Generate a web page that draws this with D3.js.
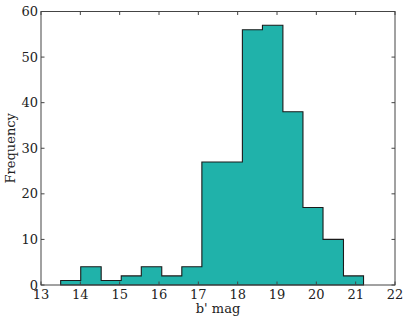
<!DOCTYPE html>
<html>
<head>
<meta charset="utf-8">
<script src="https://cdn.jsdelivr.net/npm/d3@7"></script>
<style>
body{margin:0;background:#fff;}
text{font-family:"DejaVu Serif",serif;fill:#222;}
</style>
</head>
<body>
<script>
// bin edges (b' mag) and counts
var binEdges = [13.50,14.01,14.53,15.04,15.55,16.07,16.58,17.09,17.61,18.12,18.63,19.15,19.66,20.17,20.69,21.20];
var counts = [1,4,1,2,4,2,4,27,27,56,57,38,17,10,2];
var xTicks = [13,14,15,16,17,18,19,20,21,22];
var yTicks = [0,10,20,30,40,50,60];

const svg_width = 409,svg_height = 323;
const plot_left = 41,plot_right = 395,plot_top = 11.5,plot_bottom = 285;

var svg = d3.select("body").append("svg")
			.attr("width",svg_width)
			.attr("height",svg_height);

var x = d3.scaleLinear().domain([13,22]).range([plot_left,plot_right]);
var y = d3.scaleLinear().domain([0,60]).range([plot_bottom,plot_top]);

// step outline of the histogram
var pts = [[binEdges[0],0]];
for(var i=0;i<counts.length;i++){
	pts.push([binEdges[i],counts[i]]);
	pts.push([binEdges[i+1],counts[i]]);
}
pts.push([binEdges[binEdges.length-1],0]);

var line = d3.line().x(function(d){return x(d[0])}).y(function(d){return y(d[1])});

svg.append("path")
	.attr("d",line(pts)+"Z")
	.attr("fill","#20b2aa")
	.attr("stroke","#1a1a1a")
	.attr("stroke-width",1.1)
	.attr("stroke-linejoin","miter");

// frame
svg.append("rect")
	.attr("x",plot_left).attr("y",plot_top)
	.attr("width",plot_right-plot_left).attr("height",plot_bottom-plot_top)
	.attr("fill","none").attr("stroke","#444").attr("stroke-width",1);

// x ticks (inside, bottom and top)
var xg = svg.append("g");
xTicks.forEach(function(t){
	xg.append("line").attr("x1",x(t)).attr("x2",x(t)).attr("y1",plot_bottom).attr("y2",plot_bottom-3.5)
		.attr("stroke","#444");
	xg.append("line").attr("x1",x(t)).attr("x2",x(t)).attr("y1",plot_top).attr("y2",plot_top+3.5)
		.attr("stroke","#444");
	xg.append("text").attr("x",x(t)).attr("y",plot_bottom+13.5)
		.attr("text-anchor","middle").attr("font-size","13px").text(t);
});

// y ticks (inside, left and right)
var yg = svg.append("g");
yTicks.forEach(function(t){
	yg.append("line").attr("x1",plot_left).attr("x2",plot_left+3.5).attr("y1",y(t)).attr("y2",y(t))
		.attr("stroke","#444");
	yg.append("line").attr("x1",plot_right).attr("x2",plot_right-3.5).attr("y1",y(t)).attr("y2",y(t))
		.attr("stroke","#444");
	yg.append("text").attr("x",plot_left-3).attr("y",y(t)+4.5)
		.attr("text-anchor","end").attr("font-size","13px").text(t);
});

// axis labels
svg.append("text").attr("x",(plot_left+plot_right)/2).attr("y",313)
	.attr("text-anchor","middle").attr("font-size","13px").text("b' mag");
svg.append("text").attr("transform","translate(15,"+((plot_top+plot_bottom)/2)+") rotate(-90)")
	.attr("text-anchor","middle").attr("font-size","13px").text("Frequency");
</script>
</body>
</html>
